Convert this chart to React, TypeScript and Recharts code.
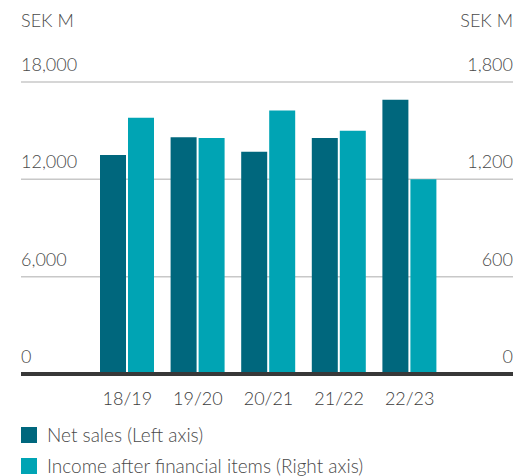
import React from 'react';
import { BarChart, Bar, XAxis, YAxis, CartesianGrid } from 'recharts';

// Fiscal years on the x axis
const years = ['18/19', '19/20', '20/21', '21/22', '22/23'];
// Net sales, SEK M (left axis)
const netSales = [13500, 14600, 13700, 14550, 16900];
// Income after financial items, SEK M (right axis)
const incomeAfterFin = [1580, 1455, 1625, 1500, 1200];

const leftTicks = [0, 6000, 12000, 18000];
const rightTicks = [0, 600, 1200, 1800];

const DARK = '#00677d';
const LIGHT = '#00a4b4';
const TEXT = '#4a4a4a';
const FONT = 'Lato, sans-serif';

const data = years.map((year, i) => ({
  year,
  netSales: netSales[i],
  income: incomeAfterFin[i],
}));

const renderLeftTick = (props: any) => {
  const { y, payload } = props;
  return (
    <text x={21} y={y - 11} fill={TEXT} fontSize={18} fontWeight={300} fontFamily={FONT} textAnchor="start">
      {Number(payload.value).toLocaleString('en-US')}
    </text>
  );
};

const renderRightTick = (props: any) => {
  const { y, payload } = props;
  return (
    <text x={513} y={y - 11} fill={TEXT} fontSize={18} fontWeight={300} fontFamily={FONT} textAnchor="end">
      {Number(payload.value).toLocaleString('en-US')}
    </text>
  );
};

const App: React.FC = () => {
  return (
    <div style={{ position: 'relative', width: 514, height: 476, fontFamily: FONT, fontWeight: 300, color: TEXT }}>
      <style>{'body{margin:0}'}</style>
      {/* unit labels */}
      <div style={{ position: 'absolute', left: 21, top: 9, fontSize: 18 }}>SEK M</div>
      <div style={{ position: 'absolute', right: 1, top: 9, fontSize: 18 }}>SEK M</div>

      <BarChart
        width={514}
        height={476}
        data={data}
        margin={{ top: 82, right: 0, left: 20, bottom: 62 }}
        barSize={26}
        barGap={2}
      >
        <CartesianGrid vertical={false} stroke="#c8c8c8" strokeWidth={1.5} yAxisId="left" />
        <XAxis
          dataKey="year"
          height={40}
          padding={{ left: 71, right: 68 }}
          tickLine={false}
          axisLine={{ stroke: '#383838', strokeWidth: 4 }}
          tickMargin={12}
          tick={{ fill: '#3c3c3c', fontSize: 18, fontWeight: 300, fontFamily: FONT }}
        />
        <YAxis
          yAxisId="left"
          width={1}
          domain={[0, 18000]}
          ticks={leftTicks}
          interval={0}
          axisLine={false}
          tickLine={false}
          tick={renderLeftTick}
        />
        <YAxis
          yAxisId="right"
          orientation="right"
          width={1}
          domain={[0, 1800]}
          ticks={rightTicks}
          interval={0}
          axisLine={false}
          tickLine={false}
          tick={renderRightTick}
        />
        <Bar yAxisId="left" dataKey="netSales" fill={DARK} isAnimationActive={false} />
        <Bar yAxisId="right" dataKey="income" fill={LIGHT} isAnimationActive={false} />
      </BarChart>

      {/* Legend */}
      <div style={{ position: 'absolute', left: 21, top: 423, fontSize: 19, lineHeight: '22px' }}>
        <div style={{ display: 'flex', alignItems: 'center', height: 24 }}>
          <div style={{ width: 16, height: 16, background: DARK, marginRight: 10 }} />
          <span>Net sales (Left axis)</span>
        </div>
        <div style={{ display: 'flex', alignItems: 'center', height: 24, marginTop: 7 }}>
          <div style={{ width: 16, height: 16, background: LIGHT, marginRight: 10 }} />
          <span>Income after financial items (Right axis)</span>
        </div>
      </div>
    </div>
  );
};

export default App;
